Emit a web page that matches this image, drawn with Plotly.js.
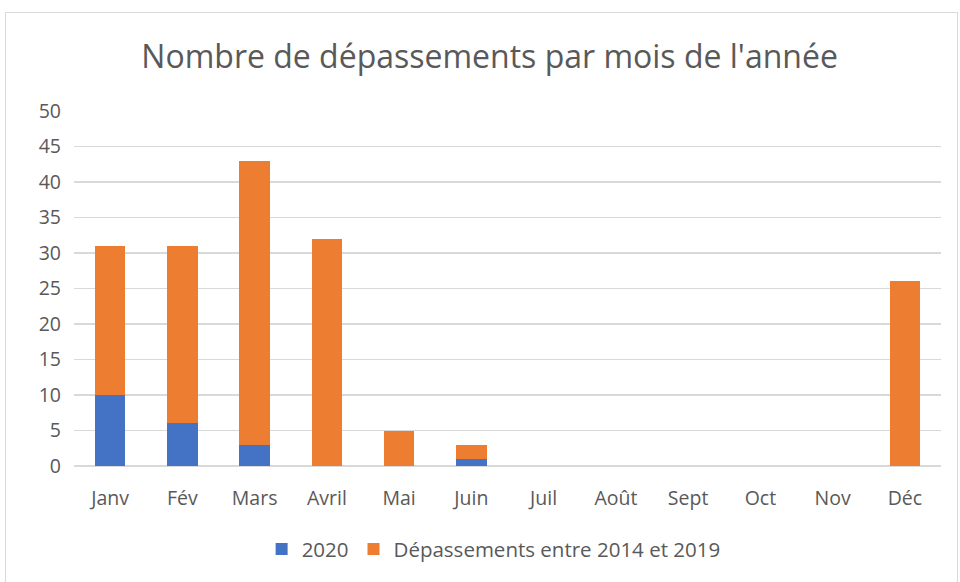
<!DOCTYPE html>
<html>
<head>
<meta charset="utf-8">
<script src="https://cdn.plot.ly/plotly-3.0.1.min.js"></script>
<style>
html,body{margin:0;padding:0;background:#fff;}
#frame{position:absolute;left:5px;top:12px;width:953px;height:580px;border:1.5px solid #d9d9d9;box-sizing:border-box;}
#chart{position:absolute;left:0;top:0;width:960px;height:582px;}
</style>
</head>
<body>
<div id="frame"></div>
<div id="chart"></div>
<script>
const months = ['Janv','Fév','Mars','Avril','Mai','Juin','Juil','Août','Sept','Oct','Nov','Déc'];
const values2020 = [10, 6, 3, 0, 0, 1, 0, 0, 0, 0, 0, 0];
const values2014_2019 = [21, 25, 40, 32, 5, 2, 0, 0, 0, 0, 0, 26];
const yTicks = [0,5,10,15,20,25,30,35,40,45,50];

const data = [
  {type:'bar', name:'2020', x:months, y:values2020, marker:{color:'#4472c4'}},
  {type:'bar', name:'Dépassements entre 2014 et 2019', x:months, y:values2014_2019, marker:{color:'#ed7d31'}}
];

const font = {family:'"Open Sans", "Noto Sans", sans-serif', color:'#595959'};
const layout = {
  width:960, height:582,
  paper_bgcolor:'rgba(0,0,0,0)', plot_bgcolor:'rgba(0,0,0,0)',
  barmode:'stack', bargap:0.58,
  margin:{l:74, r:19, t:111, b:116},
  font:font,
  title:{text:'Nombre de dépassements par mois de l\'année', x:0.51, xanchor:'center', y:0.902, yanchor:'middle',
    font:{family:font.family, size:32, color:'#595959'}},
  xaxis:{tickfont:{size:19.5, color:'#595959'}, showline:false, ticks:'', showgrid:false, ticklabelstandoff:18},
  yaxis:{range:[0,50], tickvals:yTicks, tickfont:{size:19.5, color:'#595959'}, gridcolor:'#d9d9d9', gridwidth:1.5,
    zeroline:true, zerolinecolor:'#d9d9d9', zerolinewidth:1.5, showline:false, ticks:'', ticklabelstandoff:12},
  showlegend:true,
  legend:{orientation:'h', x:0.484, xanchor:'center', y:-0.234, yanchor:'middle', font:{size:20.5, color:'#595959'},
    traceorder:'normal', itemwidth:30}
};
Plotly.newPlot('chart', data, layout, {displayModeBar:false, staticPlot:true});
</script>
</body>
</html>
